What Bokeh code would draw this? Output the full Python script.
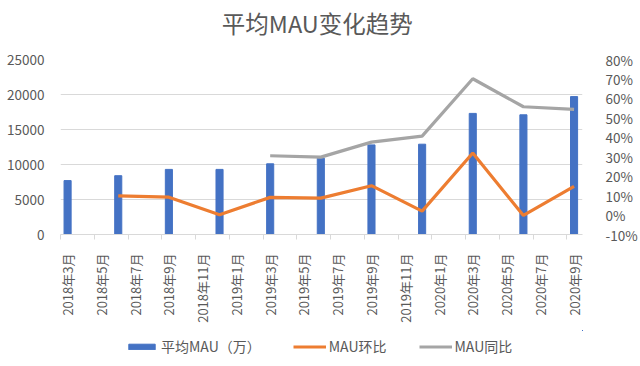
import re
import math
from bokeh.plotting import figure
from bokeh.layouts import column
from bokeh.core.properties import value
from bokeh.models import (Range1d, LinearAxis, FixedTicker, NumeralTickFormatter,
                          Legend, LegendItem, ColumnDataSource)
from bokeh.embed import file_html
from bokeh.resources import INLINE

# ---- data ----
title_text = "平均MAU变化趋势"
periods = ["2018年3月", "2018年6月", "2018年9月", "2018年12月", "2019年3月", "2019年6月",
           "2019年9月", "2019年12月", "2020年3月", "2020年6月", "2020年9月"]
mau = [7700, 8400, 9300, 9300, 10100, 10900, 12800, 12900, 17300, 17100, 19700]
mom_periods = periods[1:]
mom = [0.099, 0.092, 0.002, 0.091, 0.087, 0.151, 0.020, 0.319, -0.002, 0.147]
yoy_periods = periods[4:]
yoy = [0.305, 0.298, 0.375, 0.406, 0.701, 0.557, 0.543]
tick_labels = ["2018年3月", "2018年5月", "2018年7月", "2018年9月", "2018年11月",
               "2019年1月", "2019年3月", "2019年5月", "2019年7月", "2019年9月", "2019年11月",
               "2020年1月", "2020年3月", "2020年5月", "2020年7月", "2020年9月"]
left_ticks = [0, 5000, 10000, 15000, 20000, 25000]
right_ticks = [-0.1, 0, 0.1, 0.2, 0.3, 0.4, 0.5, 0.6, 0.7, 0.8]
series_names = ["平均MAU（万）", "MAU环比", "MAU同比"]


def month_index(s):
    y, m = re.match(r"(\d+)年(\d+)月", s).groups()
    return (int(y) - 2018) * 12 + int(m) - 3


FONT = "Noto Sans CJK SC"
TXT = "#595959"
BLUE, ORANGE, GRAY = "#4472C4", "#ED7D31", "#A5A5A5"

bar_src = ColumnDataSource(dict(x=[month_index(s) for s in periods], y=mau))
mom_src = ColumnDataSource(dict(x=[month_index(s) for s in mom_periods], y=mom))
yoy_src = ColumnDataSource(dict(x=[month_index(s) for s in yoy_periods], y=yoy))

tick_pos = [month_index(s) for s in tick_labels]


def blank(fig):
    fig.outline_line_color = None
    fig.xgrid.grid_line_color = None
    fig.ygrid.grid_line_color = None
    fig.background_fill_color = "white"
    fig.border_fill_color = "white"


# ---- title strip ----
tf = figure(width=640, height=44, output_backend="svg", toolbar_location=None,
            x_range=Range1d(0, 1), y_range=Range1d(0, 1),
            x_axis_location=None, y_axis_location=None, min_border=0)
blank(tf)
tf.text(x=[0.492], y=[0.5], text=[title_text], text_align="center", text_baseline="middle",
        text_font=value(FONT), text_font_size="23.5px", text_color=TXT)

# ---- main chart ----
p = figure(width=640, height=286, output_backend="svg", toolbar_location=None,
           x_range=Range1d(-0.42, 30.5), y_range=Range1d(0, 25000),
           min_border_left=60, min_border_right=52, min_border_top=15, min_border_bottom=96)
blank(p)

p.extra_y_ranges = {"pct": Range1d(-0.1, 0.8)}

p.vbar(x="x", top="y", width=0.42, source=bar_src, color=BLUE)
p.line(x="x", y="y", source=yoy_src, y_range_name="pct", line_color=GRAY, line_width=3.2)
p.line(x="x", y="y", source=mom_src, y_range_name="pct", line_color=ORANGE, line_width=3.2)

# x axis
xa = p.xaxis[0]
xa.ticker = FixedTicker(ticks=tick_pos, minor_ticks=[t - 0.42 for t in tick_pos])
xa.major_label_overrides = {t: l for t, l in zip(tick_pos, tick_labels)}
xa.major_label_orientation = math.pi / 2
xa.major_tick_line_color = None
xa.minor_tick_line_color = "#d9d9d9"
xa.minor_tick_in = 0
xa.minor_tick_out = 5
xa.axis_line_color = "#d9d9d9"
xa.major_label_standoff = 13
xa.major_label_text_font = FONT
xa.major_label_text_font_size = "13px"
xa.major_label_text_color = TXT

# left axis
ya = p.yaxis[0]
ya.ticker = FixedTicker(ticks=left_ticks)
ya.axis_line_color = None
ya.major_tick_line_color = None
ya.minor_tick_line_color = None
ya.major_label_text_font = FONT
ya.major_label_text_font_size = "13.5px"
ya.major_label_text_color = TXT
ya.major_label_standoff = 10

# right axis
ra = LinearAxis(y_range_name="pct", ticker=FixedTicker(ticks=right_ticks),
                formatter=NumeralTickFormatter(format="0%"))
ra.axis_line_color = None
ra.major_tick_line_color = None
ra.minor_tick_line_color = None
ra.major_label_text_font = FONT
ra.major_label_text_font_size = "13.5px"
ra.major_label_text_color = TXT
ra.major_label_standoff = 17
p.add_layout(ra, "right")

p.ygrid.ticker = FixedTicker(ticks=left_ticks)
p.ygrid.grid_line_color = "#d9d9d9"

# ---- legend strip below the chart (series drawn outside its visible range) ----
lg = figure(width=640, height=36, output_backend="svg", toolbar_location=None,
            x_range=Range1d(-100, -99), y_range=Range1d(-100, -99),
            x_axis_location=None, y_axis_location=None, min_border=0)
blank(lg)
lb = lg.vbar(x="x", top="y", width=0.42, source=bar_src, color=BLUE)
lm = lg.line(x="x", y="y", source=mom_src, line_color=ORANGE, line_width=3.2)
ly = lg.line(x="x", y="y", source=yoy_src, line_color=GRAY, line_width=3.2)

legend = Legend(items=[LegendItem(label=series_names[0], renderers=[lb]),
                       LegendItem(label=series_names[1], renderers=[lm]),
                       LegendItem(label=series_names[2], renderers=[ly])],
                orientation="horizontal", location=(65, 10))
legend.label_text_font = FONT
legend.label_text_font_size = "14px"
legend.label_text_color = TXT
legend.glyph_width = 33
legend.glyph_height = 7
legend.label_standoff = 3
legend.spacing = 32
legend.border_line_color = None
legend.background_fill_alpha = 0
legend.padding = 0
legend.margin = 0
lg.add_layout(legend)

open("out.html", "w").write(file_html(column(tf, p, lg, spacing=0), INLINE))
